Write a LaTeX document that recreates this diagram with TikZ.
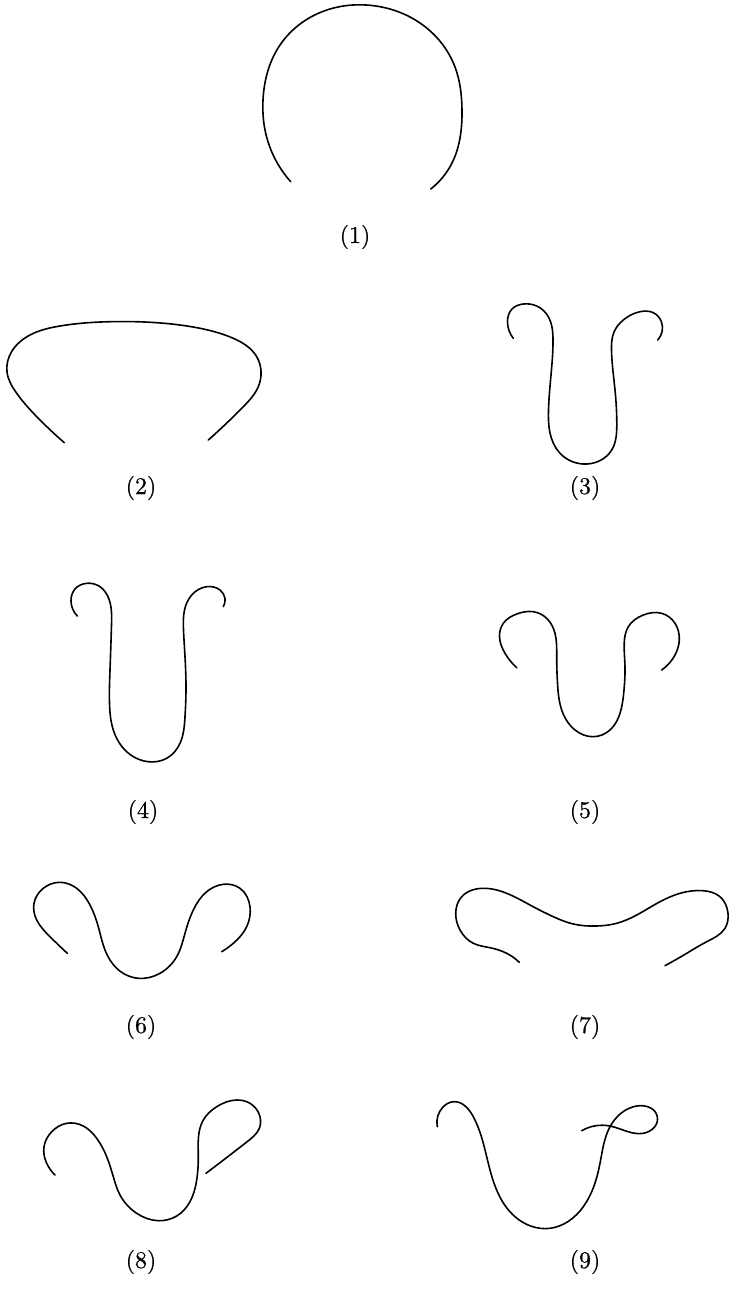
\documentclass[tikz,border=0pt]{standalone}
\usepackage{fontspec}
\usetikzlibrary{hobby}
\newfontfamily\labfont{lmroman10-regular.otf}[FakeBold=0.6]
\begin{document}
\begin{tikzpicture}[x=1pt,y=-1pt,
  curve/.style={line width=1.6pt, line cap=round, line join=round, use Hobby shortcut},
  lab/.style={font=\labfont\fontsize{24}{28}\selectfont, inner sep=0pt}]
\useasboundingbox (0,0) rectangle (729,1297);
% (1)
\draw[curve] (290.7,181.7) .. (265,130) .. (263,100) .. (280,45) .. (330,9) .. (366,5) .. (420,23) .. (455,67) .. (462,110) .. (452,163) .. (430.7,189);
\node[lab] (l1) at (355,237) {(1)};
% (2)
\draw[curve] (64.3,442.7) .. (40,420) .. (16.7,393.3) .. (7,372) .. (12,351) .. (30,335) .. (60,326) .. (110,321.7) .. (156.7,322.7) .. (200,328.3) .. (233.3,338.3) .. (256.7,356.7) .. (258.3,386.7) .. (243.3,406.7) .. (208.3,440);
\node[lab] (l2) at (141,488) {(2)};
% (3)
\draw[curve] (513.3,338.3) .. (507.5,322) .. (512,309) .. (523.3,304) .. (536.7,306) .. (548.3,316.7) .. (553,340) .. (551,375) .. (548.5,410) .. (550,433) .. (560,453.3) .. (586.7,464) .. (611.7,450) .. (616.8,425) .. (615,390) .. (611.5,350) .. (614,332) .. (623.3,320) .. (640,311.7) .. (653.3,312.7) .. (661.5,322) .. (657.7,340);
\node[lab] (l3) at (585,488) {(3)};
% (4)
\draw[curve] (77.3,616) .. (71,601) .. (75,589) .. (86.7,583.3) .. (100,586.7) .. (109.3,600) .. (111.5,625) .. (110,670) .. (109.5,703.3) .. (113.3,730) .. (126.7,751.7) .. (148.3,761.7) .. (166.7,758.3) .. (180,743.3) .. (185,716.7) .. (186,690) .. (185,656.7) .. (183.5,630) .. (184.5,610) .. (191.7,595) .. (206.7,586.7) .. (220,590) .. (225,598.3) .. (223.3,606.7);
\node[lab] (l4) at (143,812) {(4)};
% (5)
\draw[curve] (516.7,667.7) .. (505,653.3) .. (499.5,636.7) .. (503.3,623.3) .. (516.7,614) .. (533.3,611.7) .. (546.7,618.3) .. (555,633.3) .. (556.7,656.7) .. (557.5,683.3) .. (561.7,710) .. (575,730) .. (593.3,736.7) .. (610,730) .. (620,713.3) .. (624,690) .. (625,666.7) .. (624.2,643.3) .. (628.3,626.7) .. (643.3,615) .. (661.7,613.3) .. (675,623.3) .. (679.3,640) .. (675,655) .. (661.7,670);
\node[lab] (l5) at (585,812) {(5)};
% (6)
\draw[curve] (67.3,953.3) .. (50,936.7) .. (36.7,920) .. (34,903.3) .. (43.3,888.3) .. (60,882.3) .. (76.7,888.3) .. (90,905) .. (98.3,926.7) .. (105,950) .. (116.7,968.3) .. (138.3,978.3) .. (160,973.3) .. (176.7,956.7) .. (185,933.3) .. (193.3,910) .. (206.7,891.7) .. (223.3,884.3) .. (240,888.3) .. (250,906.7) .. (246.7,926.7) .. (233.3,943.3) .. (221.7,951.7);
\node[lab] (l6) at (141,1027) {(6)};
% (7)
\draw[curve] (519.3,962.3) .. (506.7,953.3) .. (490,947.7) .. (473.3,943.3) .. (460,930) .. (455.7,913.3) .. (461.7,896.7) .. (483.3,888.3) .. (506.7,893.3) .. (530,905) .. (553.3,916.7) .. (573.3,924) .. (596.7,926) .. (616.7,923.3) .. (636.7,915) .. (660,901.7) .. (680,893.3) .. (703.3,890.7) .. (720,896.7) .. (728,913.3) .. (725,928.3) .. (706.7,941.7) .. (686.7,953.3) .. (665,965.7);
\node[lab] (l7) at (585,1027) {(7)};
% (8)
\draw[curve] (55,1175) .. (46.7,1163.3) .. (44,1146.7) .. (51.7,1131.7) .. (66.7,1123.3) .. (83.3,1126) .. (96.7,1138.3) .. (106.7,1156.7) .. (113.3,1176.7) .. (120,1195) .. (136.7,1213.3) .. (158.3,1220.7) .. (176.7,1216) .. (190,1201.7) .. (196.7,1180) .. (198.3,1156.7) .. (198.5,1136.7) .. (203.3,1120) .. (216.7,1106.7) .. (236.7,1100) .. (250,1103.3) .. (260,1116.7) .. (259,1129) .. (248,1141) .. (230,1155) .. (206,1173.3);
\node[lab] (l8) at (141,1262) {(8)};
% (9)
\draw[curve] (437.3,1126.7) .. (443.3,1106.7) .. (453.3,1101.7) .. (473.3,1116.7) .. (490,1170) .. (515,1216.7) .. (550,1228.3) .. (583.3,1206.7) .. (600,1163.3) .. (610,1126.7) .. (636.7,1106) .. (657.3,1116.7) .. (643.3,1133.3) .. (610,1126) .. (581.7,1130.7);
\node[lab] (l9) at (585,1262) {(9)};
\end{tikzpicture}
\end{document}
